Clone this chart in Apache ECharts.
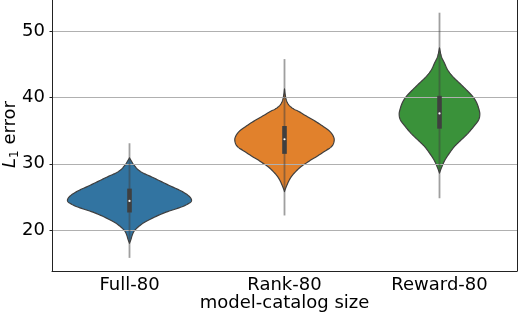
<!DOCTYPE html>
<html><head><meta charset="utf-8">
<script src="https://cdn.jsdelivr.net/npm/echarts@6/dist/echarts.min.js"></script>
<style>html,body{margin:0;padding:0;background:#fff}#c{width:518px;height:314px}</style>
</head><body><div id="c"></div>
<script>
const categories = ['Full-80', 'Rank-80', 'Reward-80'];

// violin outlines: L1 error value and relative density (1 = widest violin)
const fullValues = [30.9, 30.1, 29.6, 29.1, 28.6, 28.1, 27.6, 27.1, 26.6, 26.1, 25.6, 25.2, 24.8, 24.4, 24.1, 23.6, 23.1, 22.6, 21.8, 21.1, 20.3, 19.6, 18.5, 18.0];
const fullDensity = [0, 0.05, 0.09, 0.14, 0.22, 0.34, 0.45, 0.56, 0.67, 0.79, 0.89, 0.95, 0.99, 1.0, 0.97, 0.87, 0.72, 0.56, 0.37, 0.23, 0.12, 0.06, 0.02, 0];

const rankValues = [41.3, 40.5, 39.6, 39.0, 38.6, 38.2, 37.9, 37.1, 36.4, 35.6, 34.9, 34.1, 33.4, 32.6, 31.9, 31.1, 30.6, 30.1, 29.6, 29.1, 28.3, 27.6, 26.8, 26.1, 25.8];
const rankDensity = [0, 0.01, 0.03, 0.06, 0.10, 0.16, 0.23, 0.37, 0.50, 0.63, 0.73, 0.79, 0.80, 0.76, 0.65, 0.52, 0.43, 0.35, 0.27, 0.21, 0.13, 0.08, 0.04, 0.01, 0];

const rewardValues = [47.5, 46.2, 45.2, 44.2, 43.2, 42.2, 41.2, 40.1, 39.2, 38.1, 37.4, 36.6, 35.6, 34.6, 33.6, 32.6, 31.6, 30.6, 29.6, 28.6];
const rewardDensity = [0, 0.03, 0.08, 0.13, 0.21, 0.32, 0.43, 0.54, 0.60, 0.64, 0.65, 0.63, 0.55, 0.46, 0.35, 0.24, 0.16, 0.09, 0.04, 0];

// inner box statistics
const whiskerLow = [15.8, 22.2, 24.8];
const q1 = [22.65, 31.5, 35.3];
const medians = [24.4, 33.7, 37.6];
const q3 = [26.25, 35.7, 40.25];
const whiskerHigh = [33.1, 45.8, 52.8];

const yTickLabels = [20, 30, 40, 50];
const yMin = 13.82, yMax = 55.02;

const colors = ['#3274a1', '#e1812c', '#3a923a'];
const violinValues = [fullValues, rankValues, rewardValues];
const violinDensity = [fullDensity, rankDensity, rewardDensity];

const FONT = 'DejaVu Sans';
const chart = echarts.init(document.getElementById('c'), null, {renderer: 'canvas'});

// drawing helper: Catmull-Rom curve through one side of the outline (pixel space)
function smoothSide(p) {
  const out = [];
  const n = p.length, steps = 6;
  for (let j = 0; j < n - 1; j++) {
    const p0 = p[Math.max(j - 1, 0)], p1 = p[j], p2 = p[j + 1], p3 = p[Math.min(j + 2, n - 1)];
    for (let s = 0; s < steps; s++) {
      const t = s / steps, t2 = t * t, t3 = t2 * t;
      const f = (a, b, c, d) => 0.5 * ((2 * b) + (-a + c) * t + (2 * a - 5 * b + 4 * c - d) * t2 + (-a + 3 * b - 3 * c + d) * t3);
      out.push([f(p0[0], p1[0], p2[0], p3[0]), f(p0[1], p1[1], p2[1], p3[1])]);
    }
  }
  out.push(p[n - 1]);
  return out;
}

function renderViolin(params, api) {
  const i = params.dataIndex;
  const vals = violinValues[i], dens = violinDensity[i];
  const band = api.size([1, 0])[0];
  const hw = band * 0.4;
  const right = [], left = [];
  for (let j = 0; j < vals.length; j++) {
    const p = api.coord([i, vals[j]]);
    right.push([p[0] + dens[j] * hw, p[1]]);
    left.push([p[0] - dens[j] * hw, p[1]]);
  }
  const r = smoothSide(right);
  const l = smoothSide(left).reverse();
  const pts = r.concat(l.slice(1, l.length - 1));
  return {
    type: 'polygon',
    shape: {points: pts},
    style: {fill: colors[i], stroke: '#3f3f3f', lineWidth: 1.2, lineJoin: 'round'}
  };
}

function renderBox(params, api) {
  const i = params.dataIndex;
  const lo = api.coord([i, whiskerLow[i]]);
  const hi = api.coord([i, whiskerHigh[i]]);
  const b1 = api.coord([i, q1[i]]);
  const b3 = api.coord([i, q3[i]]);
  const m = api.coord([i, medians[i]]);
  const bw = 4.6;
  return {
    type: 'group',
    children: [
      {type: 'line', shape: {x1: lo[0], y1: lo[1], x2: hi[0], y2: hi[1]},
       style: {stroke: 'rgba(64,64,64,0.5)', lineWidth: 1.8}},
      {type: 'rect', shape: {x: b3[0] - bw / 2, y: b3[1], width: bw, height: b1[1] - b3[1]},
       style: {fill: '#3f3f3f'}},
      {type: 'circle', shape: {cx: m[0], cy: m[1], r: 1.1},
       style: {fill: '#ffffff'}}
    ]
  };
}

const option = {
  backgroundColor: '#ffffff',
  animation: false,
  grid: {left: 52, right: 1, top: -2, bottom: 43, outerBoundsMode: 'none', containLabel: false},
  xAxis: {
    type: 'category',
    data: categories,
    boundaryGap: true,
    axisLine: {show: true, lineStyle: {color: '#222', width: 1}},
    axisTick: {show: false},
    axisLabel: {color: '#000', fontFamily: FONT, fontSize: 18, margin: 5},
    name: 'model-catalog size',
    nameLocation: 'middle',
    nameGap: 32.5,
    nameMoveOverlap: false,
    nameTextStyle: {color: '#000', fontFamily: FONT, fontSize: 18, verticalAlign: 'middle'},
    splitLine: {show: false}
  },
  yAxis: [{
    type: 'value',
    min: yMin, max: yMax,
    splitNumber: 4,
    z: 3,
    axisLine: {show: true, lineStyle: {color: '#222', width: 1}},
    axisTick: {show: true, length: 2.5, customValues: yTickLabels, lineStyle: {color: '#222'}},
    axisLabel: {
      color: '#000', fontFamily: FONT, fontSize: 18, margin: 7,
      customValues: yTickLabels,
      formatter: function (v) { return yTickLabels.indexOf(Math.round(v * 1000) / 1000) >= 0 ? String(v) : ''; }
    },
    splitLine: {show: true, lineStyle: {color: '#b0b0b0', width: 1}},
    name: '{i|L}{s|1} error',
    nameLocation: 'middle',
    nameGap: 42,
    nameRotate: 90,
    nameMoveOverlap: false,
    nameTextStyle: {
      color: '#000', fontFamily: FONT, fontSize: 18, verticalAlign: 'middle',
      rich: {
        i: {fontFamily: FONT, fontSize: 18, fontStyle: 'italic', color: '#000', lineHeight: 22},
        s: {fontFamily: FONT, fontSize: 12, color: '#000', verticalAlign: 'bottom', lineHeight: 22, padding: [6, 0, 0, 0]}
      }
    }
  }, {
    type: 'value',
    position: 'right',
    min: yMin, max: yMax,
    axisLine: {show: true, onZero: false, lineStyle: {color: '#222', width: 1}},
    axisTick: {show: false},
    axisLabel: {show: false},
    splitLine: {show: false}
  }],
  series: [{
    type: 'custom',
    name: 'violin',
    z: 1,
    renderItem: renderViolin,
    data: categories.map((c, i) => [i]),
    encode: {x: 0}
  }, {
    type: 'custom',
    name: 'box',
    z: 5,
    renderItem: renderBox,
    data: categories.map((c, i) => [i]),
    encode: {x: 0}
  }]
};
chart.setOption(option);
</script>
</body></html>
